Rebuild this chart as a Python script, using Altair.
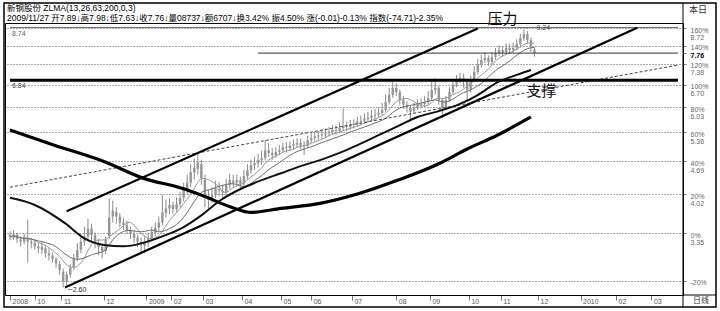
import json
import altair as alt
import pandas as pd

# ---------------- data ----------------
# one candle per two trading days, x = trading-day index
bar_idx = list(range(0, 297, 2))
opens = [3.33,3.28,3.33,3.25,3.22,3.28,3.22,3.20,3.15,3.10,3.12,3.05,3.02,2.97,2.90,2.80,2.68,2.76,2.86,2.98,
         3.10,3.22,3.30,3.42,3.32,3.20,3.14,3.08,3.30,3.62,3.70,3.62,3.52,3.48,3.40,3.34,3.28,3.22,3.16,3.20,
         3.27,3.36,3.44,3.52,3.68,3.76,3.82,3.75,3.84,3.95,4.10,4.24,4.45,4.52,4.62,4.30,3.95,3.92,4.00,4.12,
         4.08,4.05,4.19,4.28,4.24,4.29,4.22,4.37,4.49,4.60,4.64,4.71,4.76,4.93,4.87,4.82,4.89,4.93,5.00,4.98,
         5.03,5.07,5.10,5.05,5.04,5.17,5.22,5.26,5.29,5.31,5.34,5.37,5.42,5.40,5.47,5.52,5.50,5.55,5.57,5.63,
         5.66,5.71,5.74,5.79,5.82,5.87,5.95,6.17,6.38,6.60,6.47,6.23,6.10,6.01,5.92,6.01,6.10,6.12,6.17,6.29,
         6.53,6.60,6.23,6.01,6.23,6.47,6.70,6.84,6.91,6.80,6.53,6.84,7.10,7.34,7.51,7.58,7.44,7.62,7.76,7.87,
         7.80,7.95,7.87,7.95,8.10,8.32,8.48,8.24,7.89]
closes = [3.29,3.33,3.26,3.22,3.28,3.22,3.20,3.15,3.12,3.14,3.05,3.02,2.97,2.91,2.82,2.68,2.76,2.85,2.98,3.10,
          3.22,3.30,3.42,3.32,3.22,3.14,3.08,3.25,3.60,3.72,3.62,3.52,3.48,3.40,3.34,3.28,3.22,3.18,3.20,3.27,
          3.37,3.43,3.52,3.69,3.76,3.82,3.75,3.84,3.95,4.10,4.24,4.45,4.54,4.66,4.33,3.95,3.91,4.00,4.13,4.09,
          4.05,4.19,4.29,4.24,4.29,4.22,4.37,4.49,4.60,4.64,4.71,4.75,4.93,4.87,4.82,4.89,4.93,5.00,4.98,5.03,
          5.07,5.10,5.05,5.02,5.17,5.22,5.26,5.29,5.31,5.34,5.37,5.42,5.40,5.47,5.52,5.50,5.55,5.57,5.63,5.66,
          5.71,5.74,5.79,5.82,5.87,5.95,6.17,6.38,6.60,6.47,6.23,6.10,6.01,5.90,6.01,6.10,6.12,6.17,6.29,6.53,
          6.60,6.23,6.01,6.23,6.47,6.70,6.84,6.91,6.80,6.53,6.84,7.10,7.34,7.51,7.58,7.44,7.62,7.76,7.87,7.80,
          7.95,7.87,7.95,8.10,8.32,8.48,8.24,8.02,7.76]
highs = [3.38,3.40,3.36,3.30,3.34,3.57,3.28,3.26,3.20,3.22,3.16,3.12,3.06,3.00,2.94,2.84,2.80,2.90,3.04,3.20,
         3.34,3.45,3.58,3.50,3.36,3.26,3.18,3.30,3.94,3.90,3.78,3.68,3.60,3.55,3.45,3.40,3.32,3.28,3.30,3.36,
         3.45,3.52,3.62,4.00,3.92,3.95,3.88,3.96,4.06,4.24,4.40,4.62,4.75,4.87,4.72,4.40,4.10,4.15,4.28,4.25,
         4.20,4.32,4.42,4.40,4.40,4.36,4.50,4.62,4.72,4.78,4.85,4.92,5.17,5.10,4.98,5.00,5.05,5.10,5.12,5.14,
         5.18,5.22,5.20,5.15,5.28,5.34,5.38,5.40,5.44,5.46,5.50,5.55,5.54,5.62,6.00,5.64,5.68,5.70,5.76,5.80,
         5.86,5.90,5.95,5.98,6.02,6.15,6.40,6.60,6.80,6.75,6.55,6.35,6.20,6.08,6.15,6.25,6.28,6.35,6.50,6.80,
         6.91,6.66,6.30,6.35,6.62,6.86,7.00,7.08,7.05,6.85,6.98,7.30,7.55,7.70,7.80,7.68,7.80,7.95,8.05,8.00,
         8.12,8.10,8.15,8.28,8.50,8.66,8.60,8.35,7.98]
lows = [3.24,3.25,3.20,3.15,3.18,2.92,3.12,3.10,3.05,3.04,2.99,2.95,2.92,2.85,2.76,2.60,2.62,2.72,2.82,2.94,
        3.05,3.16,3.25,3.22,3.12,3.02,2.98,3.04,3.26,3.52,3.50,3.44,3.40,3.34,3.26,3.20,3.14,3.06,3.05,3.14,
        3.22,3.30,3.38,3.48,3.60,3.66,3.66,3.70,3.78,3.88,4.02,4.15,4.30,4.40,4.20,3.78,3.73,3.85,3.95,3.98,
        3.95,4.00,4.12,4.14,4.16,4.12,4.15,4.30,4.42,4.50,4.55,4.60,4.70,4.78,4.72,4.76,4.82,4.88,4.88,4.92,
        4.96,5.00,4.96,4.82,4.98,5.10,5.14,5.18,5.20,5.22,5.26,5.30,5.30,5.35,5.40,5.40,5.42,5.46,5.50,5.54,
        5.58,5.62,5.66,5.70,5.74,5.80,5.90,6.10,6.30,6.35,6.10,5.98,5.88,5.66,5.86,5.96,6.00,6.04,6.10,6.20,
        6.40,6.10,5.72,5.95,6.18,6.40,6.62,6.75,6.60,6.23,6.45,6.78,7.02,7.25,7.40,7.30,7.36,7.52,7.66,7.62,
        7.70,7.72,7.78,7.86,8.02,8.22,8.10,7.80,7.63]

# 63-day and 200-day averages as drawn
ma63_idx = [0,14,31,42,53,64,75,86,97,108,119,131,142,153,164,175,186,197,208,219,230,242,253,264,275,286,294]
ma63_val = [3.95,3.82,3.51,3.27,3.17,3.15,3.20,3.30,3.43,3.64,3.91,4.13,4.29,4.43,4.58,4.71,4.87,5.07,5.29,
            5.52,5.76,5.92,6.10,6.38,6.77,7.01,7.17]
ma200_idx = [0,25,53,75,97,108,125,136,153,175,197,219,242,258,275,294]
ma200_val = [5.42,5.05,4.68,4.33,4.13,4.00,3.78,3.69,3.76,3.85,4.03,4.29,4.63,4.96,5.29,5.76]

# drawn channel lines and trend line (end points)
chan_name = ["top", "top", "low", "low"]
chan_idx = [32, 264, 31, 354]
chan_val = [3.71, 8.70, 2.60, 8.73]
trend_idx = [0, 377]
trend_val = [4.15, 7.34]

# horizontal lines
h_start = [0, 140, 0]
h_end = [377, 377, 377]
h_val = [8.74, 7.76, 6.84]
h_width = [1, 1, 3]
h_color = ["#666666", "#333333", "#000000"]

# axis ticks
y_ticks = [2.68, 3.35, 4.02, 4.69, 5.36, 6.03, 6.70, 7.38, 7.76, 8.04, 8.72]
y_pct = ["-20%", "0%", "20%", "40%", "60%", "80%", "100%", "120%", "", "140%", "160%"]
y_price = ["", "3.35", "4.02", "4.69", "5.36", "6.03", "6.70", "7.38", "7.76", "", "8.72"]
month_idx = [0, 14, 29, 53, 77, 91, 109, 131, 153, 170, 193, 218, 237, 259, 277, 298, 322, 342, 362]
month_lab = ["2008", "10", "11", "12", "2009", "02", "03", "04", "05", "06", "07", "08", "09", "10", "11",
             "12", "2010", "02", "03"]

# annotations
ann_text = ["压力", "支撑", "9.24", "─2.60", "8.74", "6.84"]
ann_idx = [278, 300, 296, 32, 0, 0]
ann_val = [8.74, 6.50, 8.74, 2.60, 8.74, 6.84]

header1 = "新钢股份 ZLMA(13,26,63,200,0,3)"
header2 = ("2009/11/27 开7.89↓高7.98↓低7.63↓收7.76↓量08737↓额6707↓换3.42% 振4.50% "
           "涨(-0.01)-0.13% 指数(-74.71)-2.35%")

# ---------------- chart ----------------
W, H = 678, 272
XDOM = [0, 377]
YDOM = [2.51, 8.93]
LBL_FONT = "Liberation Sans"
HDR_FONT = "Liberation Sans, Noto Sans CJK SC"

xs = alt.Scale(domain=XDOM, nice=False, zero=False)
ys = alt.Scale(type="log", domain=YDOM, nice=False, zero=False)

y_labels = [[s for s in (p, q) if s] for p, q in zip(y_pct, y_price)]
y_expr = f"{json.dumps(y_labels)}[indexof({json.dumps(y_ticks)}, datum.value)]"
x_expr = f"{json.dumps(month_lab)}[indexof({json.dumps(month_idx)}, datum.value)]"

is_cur = "datum.value == 7.76"
x_axis = alt.Axis(values=month_idx, labelExpr=x_expr, grid=False, domain=True, domainColor="#000",
                  ticks=True, tickSize=5, tickColor="#777", labelAlign="left", labelOffset=2,
                  labelPadding=-3, labelBaseline="top", labelFontSize=7, labelFont=LBL_FONT,
                  labelColor="#555", labelOverlap=False, labelFlush=False, title=None)
y_axis = alt.Axis(orient="right", values=y_ticks, labelExpr=y_expr, grid=True, gridDash=[1, 2],
                  gridWidth=1,
                  gridColor={"condition": {"test": is_cur, "value": "#ffffff"}, "value": "#555555"},
                  domain=False, ticks=True, tickSize=3, tickColor="#777", labelPadding=4,
                  labelAlign="left", labelBaseline="top", labelOffset=-2, labelLineHeight=7,
                  labelFontSize=7, labelFont=LBL_FONT,
                  labelColor={"condition": {"test": is_cur, "value": "#000"}, "value": "#666"},
                  labelFontWeight={"condition": {"test": is_cur, "value": "bold"}, "value": "normal"},
                  labelOverlap=False, labelFlush=False, title=None)


def X(field):
    return alt.X(field, scale=xs, axis=x_axis)


def Y(field):
    return alt.Y(field, scale=ys, axis=y_axis)


bars = pd.DataFrame({"idx": bar_idx, "open": opens, "close": closes, "high": highs, "low": lows})
base = alt.Chart(bars)

wick = base.mark_rule(color="#8c8c8c", strokeWidth=1).encode(x=X("idx:Q"), y=Y("low:Q"), y2="high:Q")
body = base.mark_bar(size=2.4, color="#969696").encode(x=X("idx:Q"), y=Y("open:Q"), y2="close:Q")
ma13 = base.transform_window(ma="mean(close)", frame=[-6, 0], sort=[alt.SortField("idx")]).mark_line(
    color="#9a9a9a", strokeWidth=1).encode(x=X("idx:Q"), y=Y("ma:Q"))
ma26 = base.transform_window(ma="mean(close)", frame=[-12, 0], sort=[alt.SortField("idx")]).mark_line(
    color="#6e6e6e", strokeWidth=1).encode(x=X("idx:Q"), y=Y("ma:Q"))

ma63 = alt.Chart(pd.DataFrame({"idx": ma63_idx, "v": ma63_val})).mark_line(
    color="#111", strokeWidth=2, interpolate="monotone").encode(x=X("idx:Q"), y=Y("v:Q"))
ma200 = alt.Chart(pd.DataFrame({"idx": ma200_idx, "v": ma200_val})).mark_line(
    color="#000", strokeWidth=3.2, interpolate="monotone").encode(x=X("idx:Q"), y=Y("v:Q"))

chan = alt.Chart(pd.DataFrame({"name": chan_name, "idx": chan_idx, "v": chan_val})).mark_line(
    color="#000", strokeWidth=2.2).encode(x=X("idx:Q"), y=Y("v:Q"), detail="name:N")
trend = alt.Chart(pd.DataFrame({"idx": trend_idx, "v": trend_val})).mark_line(
    color="#444", strokeWidth=1, strokeDash=[3, 2]).encode(x=X("idx:Q"), y=Y("v:Q"))

hdf = pd.DataFrame({"x0": h_start, "x1": h_end, "v": h_val, "w": h_width, "c": h_color})
hlines = alt.Chart(hdf).mark_rule().encode(
    x=X("x0:Q"), x2="x1:Q", y=Y("v:Q"),
    strokeWidth=alt.StrokeWidth("w:Q", scale=None, legend=None),
    color=alt.Color("c:N", scale=None, legend=None),
)

adf = pd.DataFrame({"t": ann_text, "idx": ann_idx, "v": ann_val})


def ann(i, **kw):
    return alt.Chart(adf.iloc[[i]]).mark_text(**kw).encode(x=X("idx:Q"), y=Y("v:Q"), text="t:N")


cjk = "Noto Sans CJK SC"
t_press = ann(0, font=cjk, fontSize=15, color="#111", align="center", baseline="bottom", dy=-1)
t_supp = ann(1, font=cjk, fontSize=15, color="#111", align="center", baseline="middle")
t_high = ann(2, font=LBL_FONT, fontSize=7, color="#444", align="left", baseline="middle", dx=2)
t_low = ann(3, font=LBL_FONT, fontSize=7, color="#222", align="left", baseline="middle", dx=1, dy=3)
t_l1 = ann(4, font=LBL_FONT, fontSize=7, color="#666", align="left", baseline="top", dx=2, dy=2)
t_l2 = ann(5, font=LBL_FONT, fontSize=7, color="#444", align="left", baseline="top", dx=2, dy=2)

one = pd.DataFrame({"a": [0]})
frame = alt.Chart(one).mark_rect(fill=None, stroke="#000", strokeWidth=1.5).encode(
    x=alt.value(-1), x2=alt.value(711), y=alt.value(-20), y2=alt.value(284))
vsep = alt.Chart(one).mark_rule(color="#000", strokeWidth=1).encode(
    x=alt.value(678), y=alt.value(-20), y2=alt.value(284))
hsep = alt.Chart(one).mark_rule(color="#000", strokeWidth=1).encode(
    x=alt.value(678), x2=alt.value(711), y=alt.value(272))
hdr = alt.Chart(pd.DataFrame({"t": [[header1, header2]]})).mark_text(
    font=HDR_FONT, fontSize=8.5, lineHeight=10, align="left", baseline="top", color="#000").encode(
    x=alt.value(2), y=alt.value(-19), text="t")
corner1 = alt.Chart(pd.DataFrame({"t": ["本日"]})).mark_text(
    font=cjk, fontSize=9, align="left", baseline="middle", color="#333").encode(
    x=alt.value(684), y=alt.value(-13), text="t:N")
corner2 = alt.Chart(pd.DataFrame({"t": ["日线"]})).mark_text(
    font=cjk, fontSize=8, align="left", baseline="middle", color="#333").encode(
    x=alt.value(688), y=alt.value(278), text="t:N")

chart = alt.layer(
    wick, body, ma13, ma26, trend, hlines, ma200, ma63, chan,
    t_press, t_supp, t_high, t_low, t_l1, t_l2,
    frame, vsep, hsep, hdr, corner1, corner2,
).properties(
    width=W, height=H,
    padding={"left": 5, "top": 23, "right": 37, "bottom": 16},
    autosize=alt.AutoSizeParams(type="none"),
    background="#ffffff",
).configure_view(stroke="#000", strokeWidth=1)

chart.save("out.html", embed_options={"renderer": "svg", "actions": False})
